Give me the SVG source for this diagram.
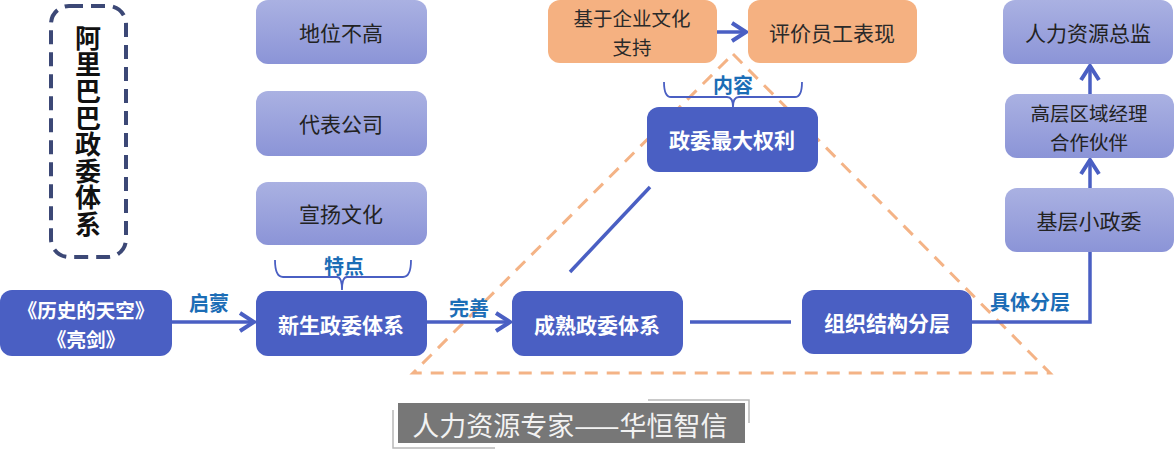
<svg xmlns="http://www.w3.org/2000/svg" width="1176" height="454" viewBox="0 0 1176 454">
<style>
.cjk{font-family:"Noto Sans CJK SC","Noto Sans",sans-serif}
.dark rect{fill:#4a5fc3}
.dark text{fill:#fff;font-weight:bold;font-size:21px;text-anchor:middle;dominant-baseline:central}
.lav rect{fill:url(#lavg)}
.lav text{fill:#222;font-size:21px;text-anchor:middle;dominant-baseline:central}
.org rect{fill:#f5b181}
.org text{fill:#2a2a2a;font-size:21px;text-anchor:middle;dominant-baseline:central}
.dark text.two,.lav text.two,.org text.two{font-size:19.5px}
.lbl{fill:#1b6db6;font-weight:bold;font-size:20px;text-anchor:middle;dominant-baseline:central}
.conn{stroke:#4a5fc3;stroke-width:3.5;fill:none}
.brace{stroke:#4a5fc3;stroke-width:1.8;fill:none}
</style>
<defs>
<linearGradient id="lavg" x1="0" y1="0" x2="0" y2="1">
<stop offset="0" stop-color="#aab1e2"/>
<stop offset="1" stop-color="#8b94d7"/>
</linearGradient>
<marker id="arr" markerUnits="userSpaceOnUse" markerWidth="22" markerHeight="22" viewBox="0 0 22 22" refX="18" refY="11" orient="auto">
<path d="M4,2 L18,11 L4,20" fill="none" stroke="#4a5fc3" stroke-width="4"/>
</marker>
</defs>
<rect width="1176" height="454" fill="#fff"/>

<!-- dashed orange triangle -->
<polygon points="733,54 1050,373 413,373" fill="none" stroke="#f4b386" stroke-width="3" stroke-dasharray="13,9"/>

<!-- title -->
<g id="title" class="cjk">
<rect x="51" y="6" width="75" height="251" rx="18" fill="none" stroke="#3c4876" stroke-width="4" stroke-dasharray="14,8"/>
<text x="88" y="25" font-size="26" font-weight="bold" fill="#111" writing-mode="vertical-rl" letter-spacing="0.6">阿里巴巴政委体系</text>
</g>

<!-- connectors -->
<g id="connectors">
<line class="conn" x1="172" y1="322" x2="254" y2="322" marker-end="url(#arr)"/>
<line class="conn" x1="427" y1="322" x2="510" y2="322" marker-end="url(#arr)"/>
<line class="conn" x1="690" y1="322" x2="791" y2="322"/>
<line class="conn" x1="570" y1="272" x2="650" y2="187"/>
<polyline class="conn" points="972,322 1090,322 1090,252"/>
<line class="conn" x1="1090" y1="188" x2="1090" y2="160" marker-end="url(#arr)"/>
<line class="conn" x1="1090" y1="94" x2="1090" y2="66" marker-end="url(#arr)"/>
<line class="conn" x1="717" y1="32" x2="746" y2="32" marker-end="url(#arr)"/>
<path class="brace" d="M275,260 Q275,277 283,277 L337,277 Q342,277 342,290 Q342,277 347,277 L403,277 Q411,277 411,260"/>
<path class="brace" d="M664,82 Q664,97 671,97 L727,97 Q733,97 733,107 Q733,97 739,97 L795,97 Q802,97 802,82"/>
</g>

<!-- labels -->
<g class="cjk">
<text class="lbl" x="209" y="302">启蒙</text>
<text class="lbl" x="469" y="307">完善</text>
<text class="lbl" x="344" y="265">特点</text>
<text class="lbl" x="733" y="84">内容</text>
<text class="lbl" x="1030" y="301">具体分层</text>
</g>

<!-- lavender nodes -->
<g id="n-diwei" class="lav cjk"><rect x="256" y="0" width="171" height="64" rx="12"/><text x="341" y="32">地位不高</text></g>
<g id="n-daibiao" class="lav cjk"><rect x="256" y="91" width="171" height="65" rx="12"/><text x="341" y="123">代表公司</text></g>
<g id="n-xuanyang" class="lav cjk"><rect x="256" y="182" width="171" height="63" rx="12"/><text x="341" y="213">宣扬文化</text></g>
<g id="n-hrd" class="lav cjk"><rect x="1003" y="0" width="170" height="64" rx="12"/><text x="1088" y="32">人力资源总监</text></g>
<g id="n-gaoceng" class="lav cjk"><rect x="1005" y="94" width="169" height="64" rx="12"/><text class="two" x="1089" y="112">高层区域经理</text><text class="two" x="1089" y="141">合作伙伴</text></g>
<g id="n-jiceng" class="lav cjk"><rect x="1005" y="188" width="169" height="64" rx="12"/><text x="1089" y="220">基层小政委</text></g>

<!-- orange nodes -->
<g id="n-jiyu" class="org cjk"><rect x="548" y="0" width="169" height="63" rx="12"/><text class="two" x="632" y="17">基于企业文化</text><text class="two" x="632" y="46">支持</text></g>
<g id="n-pingjia" class="org cjk"><rect x="748" y="0" width="169" height="63" rx="12"/><text x="832" y="32">评价员工表现</text></g>

<!-- dark nodes -->
<g id="n-lishi" class="dark cjk"><rect x="0" y="290" width="172" height="66" rx="12"/><text class="two" x="86" y="309">《历史的天空》</text><text class="two" x="86" y="338">《亮剑》</text></g>
<g id="n-xinsheng" class="dark cjk"><rect x="256" y="291" width="171" height="65" rx="12"/><text x="341" y="324">新生政委体系</text></g>
<g id="n-chengshu" class="dark cjk"><rect x="512" y="291" width="171" height="65" rx="12"/><text x="597" y="324">成熟政委体系</text></g>
<g id="n-zuzhi" class="dark cjk"><rect x="802" y="290" width="170" height="64" rx="12"/><text x="887" y="322">组织结构分层</text></g>
<g id="n-zhengwei" class="dark cjk"><rect x="647" y="107" width="171" height="65" rx="12"/><text x="732" y="139">政委最大权利</text></g>

<!-- watermark -->
<g id="watermark">
<polyline points="648,400 749,400 749,423" fill="none" stroke="#b8b8b8" stroke-width="1.5"/>
<polyline points="393,410 393,448 495,448" fill="none" stroke="#b8b8b8" stroke-width="1.5"/>
<rect x="398" y="403" width="347" height="40" fill="#777"/>
<text x="570" y="424" class="cjk" font-size="27" fill="#f2f2f2" text-anchor="middle" dominant-baseline="central">人力资源专家——华恒智信</text>
</g>
</svg>
